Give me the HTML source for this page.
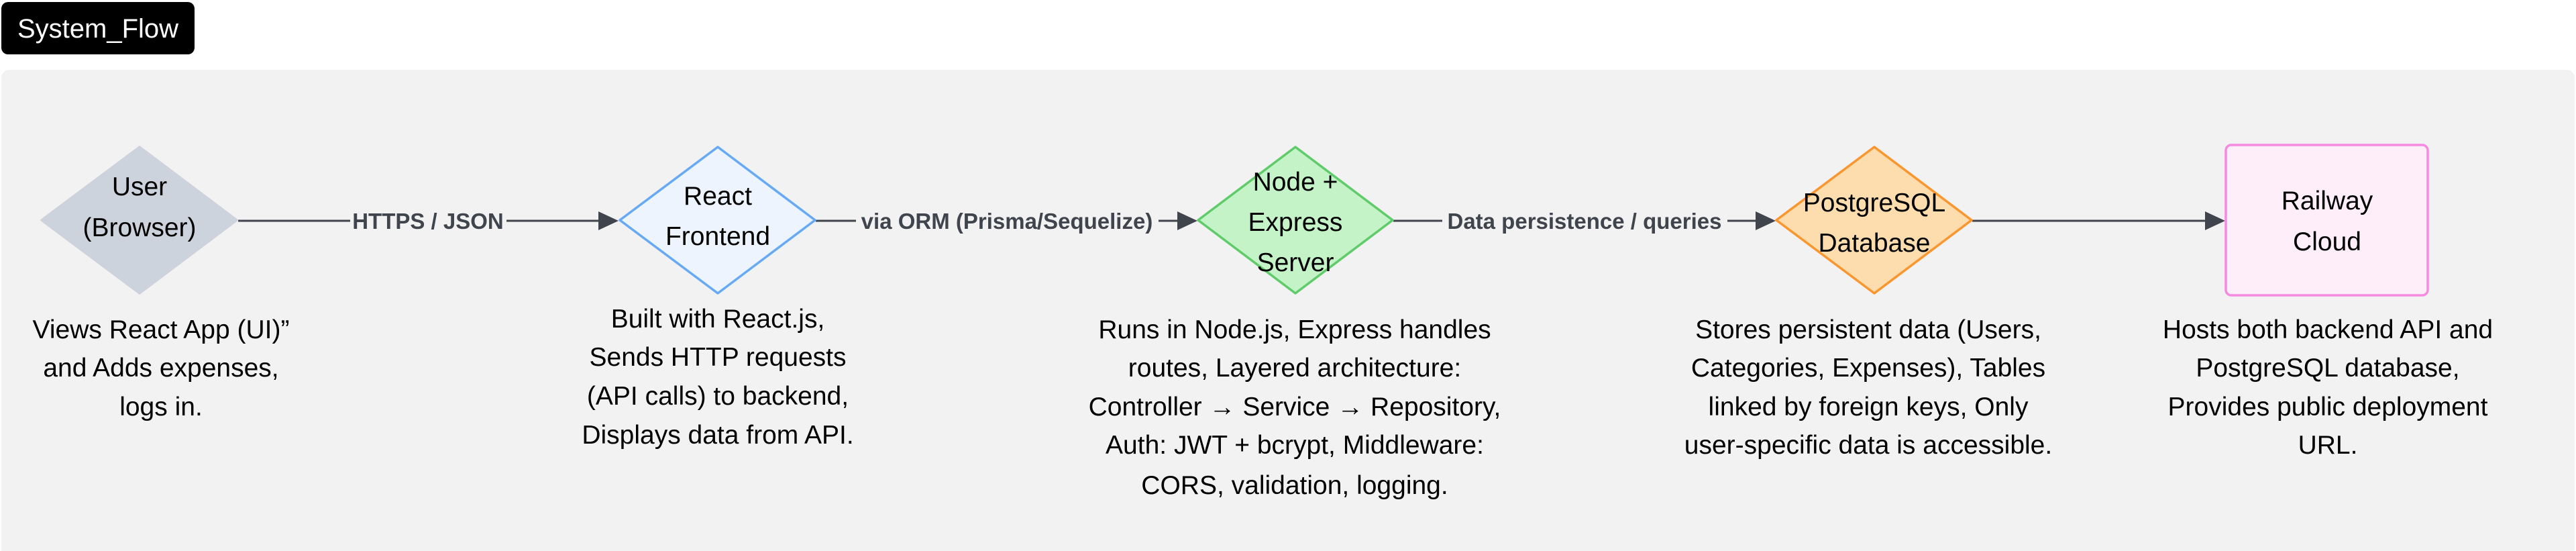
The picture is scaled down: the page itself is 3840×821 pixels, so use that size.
<!DOCTYPE html>
<html><head><meta charset="utf-8"><style>
html,body{margin:0;padding:0;background:#fff;width:3840px;height:821px;overflow:hidden}
svg{display:block}
text{font-family:"Liberation Sans",Arial,sans-serif}
</style></head><body>
<svg width="3840" height="821" viewBox="0 0 3840 821" xmlns="http://www.w3.org/2000/svg">
<rect x="2" y="3" width="288" height="78" rx="10" fill="#000"/>
<text x="146" y="56" font-size="40" fill="#fff" text-anchor="middle">System_Flow</text>
<rect x="2" y="104" width="3836" height="740" rx="12" fill="#f2f2f2"/>

<g stroke="#3f444d" stroke-width="3" fill="none">
<line x1="355" y1="329" x2="900" y2="329"/>
<line x1="1216" y1="329" x2="1763" y2="329"/>
<line x1="2077" y1="329" x2="2625" y2="329"/>
<line x1="2940" y1="329" x2="3295" y2="329"/>
</g>
<g fill="#3f444d">
<polygon points="922,329 892,315 892,343"/>
<polygon points="1785,329 1755,315 1755,343"/>
<polygon points="2647,329 2617,315 2617,343"/>
<polygon points="3317,329 3287,315 3287,343"/>
</g>
<g font-size="33" font-weight="bold" fill="#3f444d" text-anchor="middle">
<rect x="522" y="305" width="233" height="46" fill="#f2f2f2"/>
<text x="638" y="341">HTTPS / JSON</text>
<rect x="1276" y="305" width="451" height="46" fill="#f2f2f2"/>
<text x="1501" y="341">via ORM (Prisma/Sequelize)</text>
<rect x="2150" y="305" width="425" height="46" fill="#f2f2f2"/>
<text x="2362" y="341">Data persistence / queries</text>
</g>

<g stroke-width="3.5" stroke-linejoin="round">
<path d="M208,219 L353,328 L208,437 L62,328 Z" fill="#cdd3dc" stroke="#cdd3dc"/>
<path d="M1070,219 L1215,328 L1070,437 L924,328 Z" fill="#edf4fe" stroke="#66aaf5"/>
<path d="M1931,219 L2076,328 L1931,437 L1786,328 Z" fill="#c3f3c6" stroke="#5fcb6a"/>
<path d="M2794,219 L2939,328 L2794,437 L2648,328 Z" fill="#fddcad" stroke="#f9962e"/>
<rect x="3318" y="216" width="301" height="224" rx="8" fill="#fdeef9" stroke="#f58ae0"/>
</g>
<g font-size="39" fill="#000" text-anchor="middle">
<text x="208" y="291">User</text>
<text x="208" y="352">(Browser)</text>
<text x="1070" y="305">React</text>
<text x="1070" y="365">Frontend</text>
<text x="1931" y="284">Node +</text>
<text x="1931" y="344">Express</text>
<text x="1931" y="404">Server</text>
<text x="2794" y="315">PostgreSQL</text>
<text x="2794" y="375">Database</text>
<text x="3469" y="312">Railway</text>
<text x="3469" y="373">Cloud</text>
</g>
<g font-size="39" fill="#000" text-anchor="middle">
<text x="240" y="504">Views React App (UI)”</text>
<text x="240" y="561">and Adds expenses,</text>
<text x="240" y="619">logs in.</text>

<text x="1070" y="488">Built with React.js,</text>
<text x="1070" y="545">Sends HTTP requests</text>
<text x="1070" y="603">(API calls) to backend,</text>
<text x="1070" y="661">Displays data from API.</text>

<text x="1930" y="504">Runs in Node.js, Express handles</text>
<text x="1930" y="561">routes, Layered architecture:</text>
<text x="1930" y="619">Controller → Service → Repository,</text>
<text x="1930" y="676">Auth: JWT + bcrypt, Middleware:</text>
<text x="1930" y="736">CORS, validation, logging.</text>

<text x="2785" y="504">Stores persistent data (Users,</text>
<text x="2785" y="561">Categories, Expenses), Tables</text>
<text x="2785" y="619">linked by foreign keys, Only</text>
<text x="2785" y="676">user-specific data is accessible.</text>

<text x="3470" y="504">Hosts both backend API and</text>
<text x="3470" y="561">PostgreSQL database,</text>
<text x="3470" y="619">Provides public deployment</text>
<text x="3470" y="676">URL.</text>
</g>
</svg>
</body></html>
